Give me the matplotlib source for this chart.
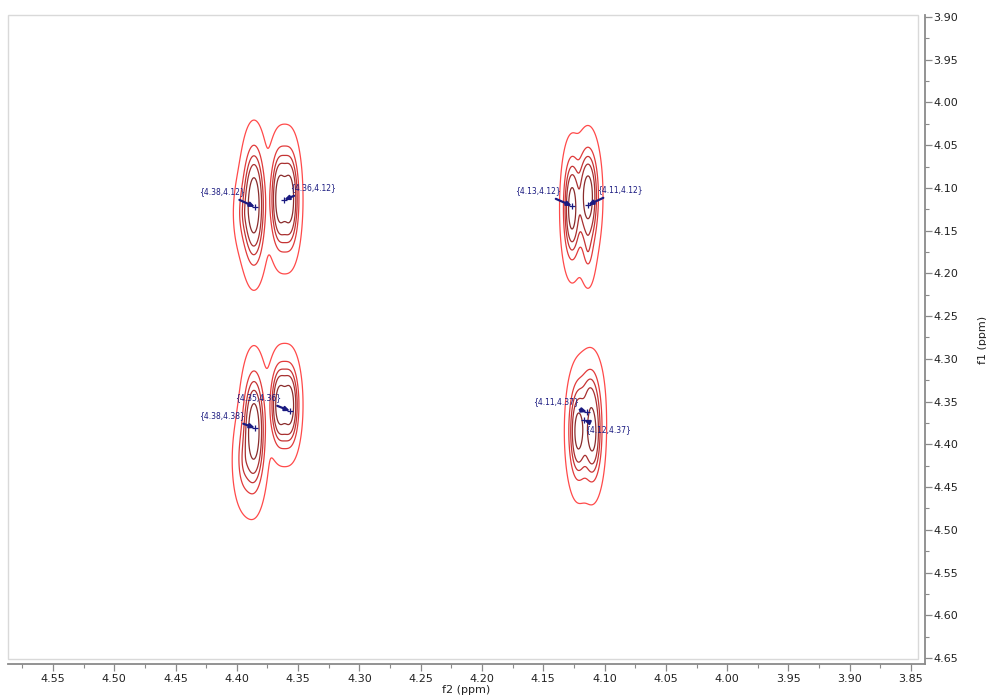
import numpy as np
import matplotlib
matplotlib.use("Agg")
import matplotlib.pyplot as plt
from matplotlib.patches import Rectangle

# Cross-peak components (f2 ppm, f1 ppm, amplitude, width f2, width f1)
comp_f2 = [4.3860, 4.3935,                      # upper-left, left multiplet
           4.3570, 4.3650,                      # upper-left, right multiplet
           4.3860, 4.3940,                      # lower-left, left multiplet
           4.3570, 4.3650,                      # lower-left, right multiplet
           4.1266, 4.1135, 4.1135,              # upper-right
           4.1215, 4.1100, 4.1120]              # lower-right
comp_f1 = [4.1200, 4.1300,
           4.1130, 4.1130,
           4.3840, 4.4200,
           4.3540, 4.3540,
           4.1240, 4.1100, 4.1700,
           4.3850, 4.3870, 4.3450]
comp_amp = [1.00, 0.12,
            0.90, 0.90,
            1.00, 0.15,
            0.90, 0.90,
            0.85, 0.90, 0.12,
            0.75, 0.75, 0.20]
comp_w2 = [0.0052, 0.0060,
           0.0045, 0.0045,
           0.0052, 0.0060,
           0.0045, 0.0045,
           0.0042, 0.0050, 0.0040,
           0.0048, 0.0048, 0.0060]
comp_w1 = [0.040, 0.030,
           0.034, 0.034,
           0.040, 0.035,
           0.028, 0.028,
           0.036, 0.034, 0.030,
           0.035, 0.035, 0.030]

# Contour levels and their colours (outer -> inner)
levels = [0.02, 0.10, 0.18, 0.28, 0.50]
level_colors = ["#ff4a4a", "#e23b3b", "#c53434", "#a83030", "#8a2c2c"]

# Picked peaks: label text, marker position, label position
peak_labels = ["{4.38,4.12}", "{4.36,4.12}", "{4.38,4.38}", "{4.35,4.36}",
               "{4.13,4.12}", "{4.11,4.12}", "{4.11,4.37}", "{4.12,4.37}"]
peak_f2 = [4.3852, 4.3615, 4.3852, 4.3566, 4.1266, 4.1135, 4.1143, 4.1168]
peak_f1 = [4.1223, 4.1141, 4.3809, 4.3610, 4.1211, 4.1200, 4.3622, 4.3715]
label_f2 = [4.4120, 4.3379, 4.4120, 4.3827, 4.1543, 4.0874, 4.1396, 4.0972]
label_f1 = [4.1048, 4.1001, 4.3668, 4.3458, 4.1036, 4.1024, 4.3504, 4.3832]

x_major = [4.55, 4.50, 4.45, 4.40, 4.35, 4.30, 4.25, 4.20, 4.15, 4.10,
           4.05, 4.00, 3.95, 3.90, 3.85]
y_major = [3.90, 3.95, 4.00, 4.05, 4.10, 4.15, 4.20, 4.25, 4.30, 4.35,
           4.40, 4.45, 4.50, 4.55, 4.60, 4.65]

# Spectrum on a grid
f2 = np.arange(3.83, 4.60, 0.0004)
f1 = np.arange(3.88, 4.67, 0.001)
F2, F1 = np.meshgrid(f2, f1)
Z = np.zeros_like(F2)
for c2, c1, a, w2, w1 in zip(comp_f2, comp_f1, comp_amp, comp_w2, comp_w1):
    r2 = ((F2 - c2) / w2) ** 2 + ((F1 - c1) / w1) ** 2
    Z += a * np.exp(-r2 ** 0.75)

fig = plt.figure(figsize=(9.87, 6.97), dpi=100)
ax = fig.add_axes([8 / 987, 1 - 664 / 697, 917 / 987, 649 / 697])

ax.contour(F2, F1, Z, levels=levels, colors=level_colors, linewidths=0.9)

navy = "#1a1a80"
for txt, px, py, lx, ly in zip(peak_labels, peak_f2, peak_f1, label_f2, label_f1):
    ax.plot(px, py, marker="+", color=navy, ms=5, mew=0.9)
    ax.annotate(txt, xy=(px, py), xytext=(lx, ly), ha="center", va="center",
                fontsize=5.5, color=navy,
                arrowprops=dict(arrowstyle="-|>,head_length=0.5,head_width=0.22",
                                color=navy, shrinkA=1, shrinkB=0, lw=1.6))

ax.set_xlim(4.5867, 3.8386)
ax.set_ylim(4.657, 3.8977)

gray = "#8a8a8a"
for side in ("top", "left"):
    ax.spines[side].set_visible(False)
for side in ("bottom", "right"):
    ax.spines[side].set_color(gray)
    ax.spines[side].set_linewidth(1.3)

ax.set_xticks(x_major)
ax.set_xticks(np.arange(3.85, 4.58, 0.025), minor=True)
ax.set_yticks(y_major)
ax.set_yticks(np.arange(3.90, 4.66, 0.025), minor=True)
ax.set_xticklabels([f"{v:.2f}" for v in x_major])
ax.set_yticklabels([f"{v:.2f}" for v in y_major])
ax.yaxis.tick_right()
ax.yaxis.set_label_position("right")
ax.tick_params(axis="both", which="major", direction="out", length=5, width=0.9,
               color=gray, labelsize=8, labelcolor="#222222", pad=2)
ax.tick_params(axis="both", which="minor", direction="out", length=3, width=0.8,
               color=gray)
ax.tick_params(axis="y", which="both", left=False, right=True)
ax.tick_params(axis="y", which="major", pad=1)

ax.set_xlabel("f2 (ppm)", fontsize=8, color="#222222", labelpad=1)
ax.set_ylabel("f1 (ppm)", fontsize=8, color="#222222", labelpad=14)

# Light frame around the plotting area
ax.add_patch(Rectangle((0, 5 / 649), 910 / 917, 644 / 649, transform=ax.transAxes,
                       fill=False, edgecolor="#d9d9d9", linewidth=1.0, clip_on=False))

fig.savefig("out.png", dpi=100, facecolor="white")
